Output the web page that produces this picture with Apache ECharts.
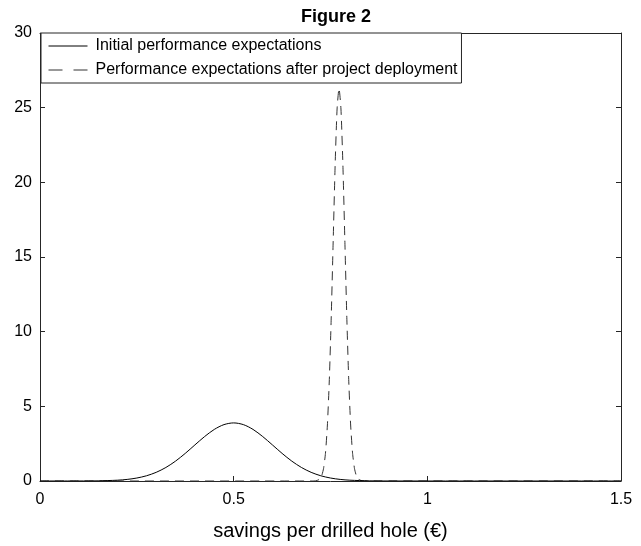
<!DOCTYPE html>
<html>
<head>
<meta charset="utf-8">
<script src="https://cdn.jsdelivr.net/npm/echarts@6/dist/echarts.min.js"></script>
<style>html,body{margin:0;padding:0;background:#fff}#c{width:641px;height:546px}</style>
</head>
<body>
<div id="c"></div>
<script>
const titleText = 'Figure 2';
const xName = 'savings per drilled hole (€)';
const seriesNames = ['Initial performance expectations', 'Performance expectations after project deployment'];

const xInitial = [0, 0.1, 0.15, 0.2, 0.225, 0.25, 0.275, 0.3, 0.325, 0.35, 0.375, 0.4, 0.425, 0.45, 0.475, 0.5,
  0.525, 0.55, 0.575, 0.6, 0.625, 0.65, 0.675, 0.7, 0.725, 0.75, 0.775, 0.8, 0.85, 0.9, 1.0, 1.5];
const yInitial = [0, 0.002, 0.011, 0.054, 0.106, 0.199, 0.350, 0.580, 0.906, 1.333, 1.849, 2.417, 2.976, 3.454, 3.776, 3.890,
  3.776, 3.454, 2.976, 2.417, 1.849, 1.333, 0.906, 0.580, 0.350, 0.199, 0.106, 0.054, 0.011, 0.002, 0, 0];

const xAfter = [0, 0.702, 0.712, 0.722, 0.727, 0.732, 0.737, 0.742, 0.747, 0.752, 0.757, 0.762, 0.767, 0.772,
  0.777, 0.782, 0.787, 0.792, 0.797, 0.802, 0.807, 0.812, 0.817, 0.822, 0.832, 0.842, 1.5];
const yAfter = [0, 0, 0.011, 0.118, 0.329, 0.824, 1.856, 3.75, 6.80, 11.07, 16.16, 21.18, 24.91, 26.30,
  24.91, 21.18, 16.16, 11.07, 6.80, 3.75, 1.856, 0.824, 0.329, 0.118, 0.011, 0, 0];

const xTicks = [0, 0.5, 1, 1.5];
const yTicks = [0, 5, 10, 15, 20, 25, 30];

const pair = (xs, ys) => xs.map((x, i) => [x, ys[i]]);
const font = 'Liberation Sans, Arial, sans-serif';

const chart = echarts.init(document.getElementById('c'), null, {renderer: 'canvas'});
const axisCommon = {
  axisLine: {show: true, onZero: false, lineStyle: {color: '#262626', width: 1}},
  axisTick: {show: true, inside: true, length: 5, lineStyle: {color: '#262626'}},
  splitLine: {show: false},
};
chart.setOption({
  animation: false,
  backgroundColor: '#fff',
  title: {
    text: titleText, left: 331, textAlign: 'center', top: 3,
    textStyle: {fontFamily: font, fontSize: 18, fontWeight: 'bold', color: '#000'}
  },
  legend: {
    orient: 'vertical', left: 41, top: 33,
    backgroundColor: '#fff', borderColor: '#262626', borderWidth: 1,
    padding: [5, 4, 5, 7], itemGap: 8, itemWidth: 39, itemHeight: 16,
    itemStyle: {opacity: 0, borderWidth: 0},
    lineStyle: {width: 1},
    textStyle: {fontFamily: font, fontSize: 16, color: '#000', padding: [0, 0, 0, 3]},
    data: [
      {name: seriesNames[0]},
      {name: seriesNames[1], lineStyle: {width: 1, type: [14, 11]}}
    ]
  },
  grid: {left: 40, right: 20, top: 33, bottom: 58, containLabel: false},
  xAxis: [
    Object.assign({}, axisCommon, {
      type: 'value', min: 0, max: 1.5, interval: 0.5, position: 'bottom',
      name: xName, nameLocation: 'middle', nameGap: 40,
      nameTextStyle: {fontFamily: font, fontSize: 20, color: '#000'},
      axisLabel: {fontFamily: font, fontSize: 16, color: '#000', margin: 11,
        formatter: v => String(v)}
    }),
    Object.assign({}, axisCommon, {
      type: 'value', min: 0, max: 1.5, interval: 0.5, position: 'top',
      axisLabel: {show: false}
    })
  ],
  yAxis: [
    Object.assign({}, axisCommon, {
      type: 'value', min: 0, max: 30, interval: 5, position: 'left',
      axisLabel: {fontFamily: font, fontSize: 16, color: '#000', margin: 8}
    }),
    Object.assign({}, axisCommon, {
      type: 'value', min: 0, max: 30, interval: 5, position: 'right',
      axisLabel: {show: false}
    })
  ],
  series: [
    {
      name: seriesNames[0], type: 'line', data: pair(xInitial, yInitial),
      smooth: 0.3, symbol: 'none', z: 3,
      lineStyle: {color: '#000', width: 1, type: 'solid'},
      itemStyle: {color: '#000'}
    },
    {
      name: seriesNames[1], type: 'line', data: pair(xAfter, yAfter),
      smooth: 0.2, symbol: 'none', z: 2,
      lineStyle: {color: '#333', width: 1, type: [9, 6]},
      itemStyle: {color: '#333'}
    }
  ]
});
</script>
</body>
</html>
